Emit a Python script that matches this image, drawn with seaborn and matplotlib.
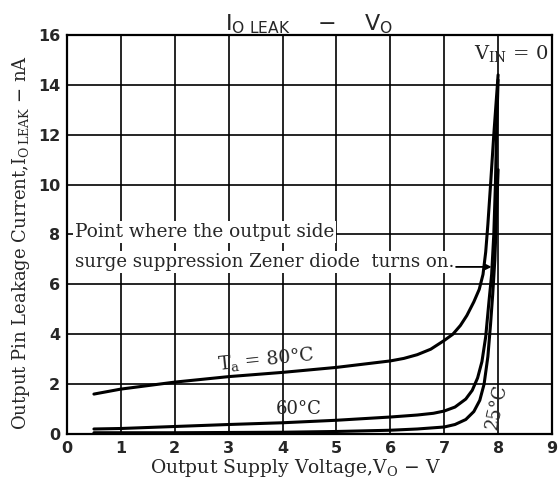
import pandas as pd
import matplotlib.pyplot as plt
import seaborn as sns

# Curve data (V_O in volts, I_O LEAK in nA)
v_80 = [0.5, 1, 2, 3, 4, 5, 6, 6.25, 6.5, 6.75, 7, 7.16, 7.3, 7.42, 7.55, 7.65, 7.72,
        7.77, 7.81, 7.86, 7.92, 8.0]
i_80 = [1.6, 1.8, 2.08, 2.3, 2.47, 2.67, 2.93, 3.03, 3.18, 3.4, 3.75, 4.0, 4.35, 4.75,
        5.3, 5.8, 6.4, 7.3, 8.4, 10.0, 12.0, 14.4]

v_60 = [0.5, 1, 2, 3, 4, 5, 6, 6.5, 6.8, 7, 7.2, 7.4, 7.52, 7.62, 7.7, 7.77, 7.83,
        7.88, 7.92, 7.95, 7.97, 8.0]
i_60 = [0.2, 0.22, 0.3, 0.38, 0.45, 0.55, 0.68, 0.76, 0.83, 0.92, 1.08, 1.4, 1.75,
        2.25, 2.9, 3.9, 5.3, 6.4, 8.0, 10.0, 12.0, 14.2]

v_25 = [0.5, 1, 2, 3, 4, 5, 6, 6.5, 7, 7.2, 7.4, 7.55, 7.66, 7.74, 7.81, 7.86, 7.9,
        7.94, 7.97, 8.0]
i_25 = [0.05, 0.05, 0.05, 0.06, 0.07, 0.1, 0.15, 0.2, 0.28, 0.38, 0.58, 0.9, 1.35,
        2.0, 3.1, 4.4, 5.6, 7.0, 8.8, 10.6]

x_ticks = [0, 1, 2, 3, 4, 5, 6, 7, 8, 9]
y_ticks = [0, 2, 4, 6, 8, 10, 12, 14, 16]

df = pd.concat([
    pd.DataFrame({"V": v_80, "I": i_80, "T": "80"}),
    pd.DataFrame({"V": v_60, "I": i_60, "T": "60"}),
    pd.DataFrame({"V": v_25, "I": i_25, "T": "25"}),
])

sns.set_style("white")
serif = "DejaVu Serif"

fig = plt.figure(figsize=(5.6, 4.88), dpi=100)
ax = fig.add_axes([0.1196, 0.1107, 0.8661, 0.8176])

sns.lineplot(data=df, x="V", y="I", units="T", estimator=None, sort=False,
             color="black", linewidth=2.2, ax=ax, legend=False)

ax.set_xlim(0, 9)
ax.set_ylim(0, 16)
ax.set_xticks(x_ticks)
ax.set_yticks(y_ticks)
ax.grid(True, color="black", linewidth=1.2)
ax.set_axisbelow(True)
for s in ax.spines.values():
    s.set_color("black")
    s.set_linewidth(1.6)
ax.tick_params(length=0, pad=5)
for lab in ax.get_xticklabels() + ax.get_yticklabels():
    lab.set_fontweight("bold")
    lab.set_fontsize(11.5)
    lab.set_family("DejaVu Sans")

ax.set_xlabel(r"Output Supply Voltage,$\mathregular{V_O}$ $-$ V",
              family=serif, fontsize=13.5, labelpad=1)
ax.xaxis.label.set_x(0.472)
ax.set_ylabel(r"Output Pin Leakage Current,$\mathregular{I_{O\,LEAK}}$ $-$ nA",
              family=serif, fontsize=13)
ax.yaxis.set_label_coords(-0.072, 0.48)
ax.set_title(r"$\mathregular{I_{O\ LEAK}}$    $-$    $\mathregular{V_O}$",
             family="DejaVu Sans", fontsize=16, pad=3)

# curve labels
ax.text(8.93, 15.25, r"$\mathregular{V_{IN}}$ = 0", family=serif, fontsize=14,
        ha="right", va="center")
ax.text(3.7, 3.0, r"$\mathregular{T_a}$ = 80°C", family=serif, fontsize=13.5,
        ha="center", va="center", rotation=6)
ax.text(4.3, 1.0, "60°C", family=serif, fontsize=13, ha="center", va="center")
ax.text(7.97, 1.1, "25°C", family=serif, fontsize=13, ha="center", va="center",
        rotation=78)

# annotation
box = dict(facecolor="white", edgecolor="none", pad=1.5)
ax.text(0.15, 8.1, "Point where the output side", family=serif, fontsize=13.3,
        ha="left", va="center", bbox=box)
ax.text(0.15, 6.9, "surge suppression Zener diode  turns on.", family=serif,
        fontsize=13.1, ha="left", va="center", bbox=box)
ax.annotate("", xy=(7.88, 6.7), xytext=(7.22, 6.7),
            arrowprops=dict(arrowstyle="-|>", color="black", lw=1.3,
                            mutation_scale=8, shrinkA=0, shrinkB=0))

fig.savefig("out.png", dpi=100)
